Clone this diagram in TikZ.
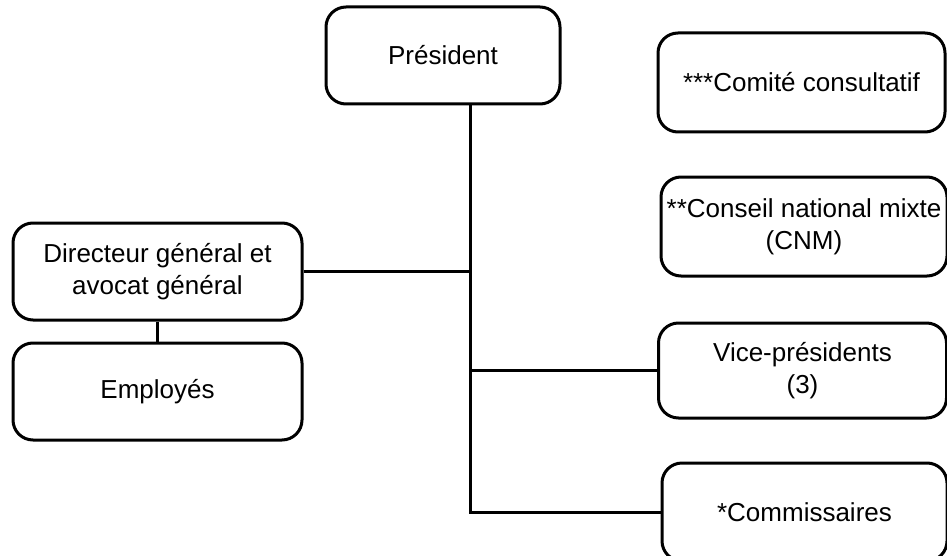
\documentclass[tikz,border=0pt]{standalone}
\usepackage{fontspec}
\setmainfont{Liberation Sans}
\usepackage{tikz}
\usetikzlibrary{calc}
\usepackage{xcolor}
\definecolor{boxline}{RGB}{0,0,0}

\begin{document}
\begin{tikzpicture}[x=0.5pt, y=-0.5pt,
    orgbox/.style={draw=boxline, line width=1.5pt, rounded corners=10pt,
      align=center, inner sep=2pt, font=\fontsize{13}{16}\selectfont},
    link/.style={draw=boxline, line width=1.5pt}]
    % ── frame ─────────────────────────────────────────────────────────
    \useasboundingbox (0,0) rectangle (947,556);
    \clip (0,0) rectangle (947,556);

    % Top of the chart
    \node[orgbox, minimum width=117pt, minimum height=48.5pt] (pres) at (443,55.5) {Président};
    \coordinate (spine) at (470,0);

    % Left branch
    \node[orgbox, minimum width=144.5pt, minimum height=48.5pt] (dir) at (157.5,271.5)
      {Directeur général et\\avocat général};
    \node[orgbox, minimum width=144.5pt, minimum height=48.5pt] (empl) at (157.5,391.5) {Employés};

    % Right column
    \node[orgbox, minimum width=143.5pt, minimum height=49.5pt] (comite) at (801.5,82.5)
      {***Comité consultatif};
    \node[orgbox, minimum width=143pt, minimum height=49.5pt] (cnm) at (804,226.5)
      {**Conseil national mixte\\(CNM)};
    \node[orgbox, minimum width=144pt, minimum height=47.5pt] (vp) at (802.5,370.5)
      {Vice-présidents\\(3)};
    \node[orgbox, minimum width=142.5pt, minimum height=49pt] (comm) at (804.5,512)
      {*Commissaires};

    % Connectors
    \draw[link] (pres.south -| spine) |- (comm.west);
    \draw[link] (dir.east) -- (dir.east -| spine);
    \draw[link] (vp.west) -- (vp.west -| spine);
    \draw[link] (dir.south) -- (empl.north);
  \end{tikzpicture}
\end{document}
